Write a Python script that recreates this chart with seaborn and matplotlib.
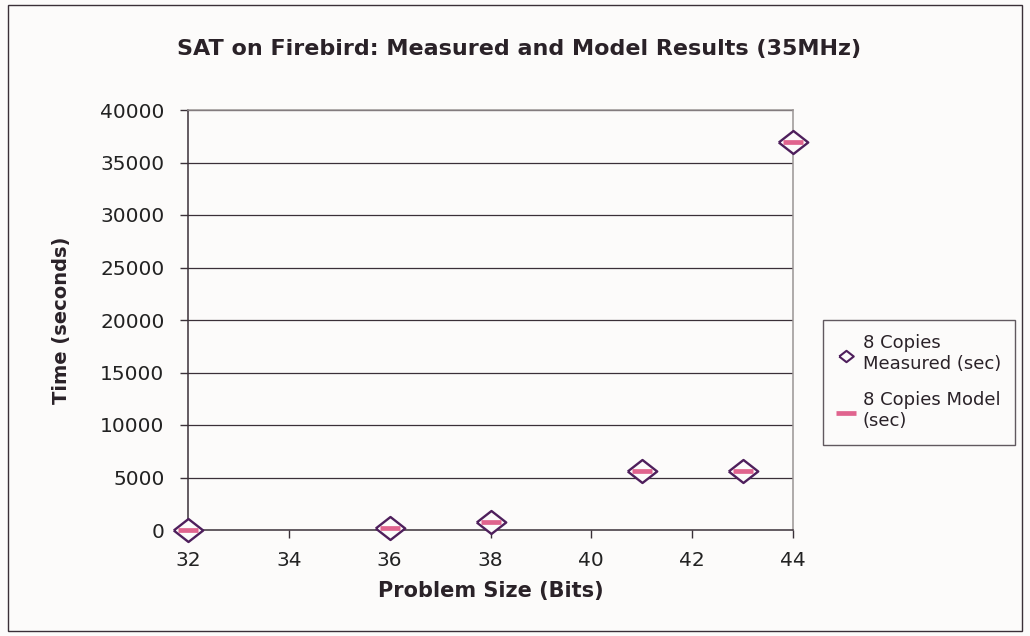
import matplotlib
matplotlib.use("Agg")
import matplotlib.pyplot as plt
from matplotlib.patches import Rectangle
import seaborn as sns
import pandas as pd

# Problem sizes (bits) and run times (seconds)
problem_bits = [32, 36, 38, 41, 43, 44]
measured_sec = [10, 230, 800, 5600, 5600, 37000]
model_sec = [10, 230, 800, 5600, 5600, 37000]

x_ticks = [32, 34, 36, 38, 40, 42, 44]
y_ticks = [0, 5000, 10000, 15000, 20000, 25000, 30000, 35000, 40000]

df = pd.DataFrame({"bits": problem_bits, "measured": measured_sec, "model": model_sec})

sns.set_theme(style="white")
plt.rcParams["font.family"] = ["DejaVu Sans"]

bg = "#fcfbfa"
purple = "#4e1f5c"
pink = "#e0648e"
dark = "#3a3038"

fig = plt.figure(figsize=(10.30, 6.36), dpi=100, facecolor=bg)
ax = fig.add_axes([188 / 1030, 1 - 530 / 636, (793 - 188) / 1030, (530 - 110) / 636])
ax.set_facecolor(bg)

# wide, flat diamond outline for the measured values
diamond = [(-1.0, 0.0), (0.0, 0.78), (1.0, 0.0), (0.0, -0.78), (-1.0, 0.0)]

sns.scatterplot(data=df, x="bits", y="measured", ax=ax, marker=diamond, s=450,
                facecolor=bg, edgecolor=purple, linewidth=1.7,
                label="8 Copies\nMeasured (sec)", zorder=4, clip_on=False)
sns.scatterplot(data=df, x="bits", y="model", ax=ax, marker="_", s=210,
                color=pink, linewidth=3.4,
                label="8 Copies Model\n(sec)", zorder=5, clip_on=False)

ax.set_xlim(32, 44)
ax.set_ylim(0, 40000)
ax.set_xticks(x_ticks)
ax.set_yticks(y_ticks)
ax.set_xticklabels([str(v) for v in x_ticks])
ax.set_yticklabels([str(v) for v in y_ticks])

for y in y_ticks[1:]:
    ax.axhline(y, color=dark, lw=0.9, zorder=1)

ax.tick_params(axis="both", which="major", direction="out", length=6, width=1,
               color=dark, labelsize=14.5, labelcolor="#222222", pad=11,
               bottom=True, left=True)
ax.tick_params(axis="x", pad=9)

for side in ["left", "bottom"]:
    ax.spines[side].set_color(dark)
    ax.spines[side].set_linewidth(1.1)
for side in ["top", "right"]:
    ax.spines[side].set_color("#9a9494")
    ax.spines[side].set_linewidth(1.1)

ax.set_xlabel("Problem Size (Bits)", fontsize=15, fontweight="bold", color="#2a2228", labelpad=8)
ax.set_ylabel("Time (seconds)", fontsize=14, fontweight="bold", color="#2a2228", labelpad=21)

fig.text(519 / 1030, 1 - 49 / 636, "SAT on Firebird: Measured and Model Results (35MHz)",
         ha="center", va="center", fontsize=16, fontweight="bold", color="#2a2228")

leg = ax.legend(loc="upper left", bbox_to_anchor=(823 / 1030, 1 - 320 / 636),
                bbox_transform=fig.transFigure, frameon=True, fancybox=False,
                fontsize=13, labelspacing=1.0, handlelength=1.0, handletextpad=0.4,
                borderpad=0.8, borderaxespad=0)
# legend keys: small diamond, full-length dash
leg.legend_handles[0].set_sizes([110])
leg.legend_handles[0].set_linewidth(1.5)
leg.legend_handles[1].set_sizes([190])
leg.legend_handles[1].set_linewidth(3.4)
leg.get_frame().set_edgecolor(dark)
leg.get_frame().set_linewidth(1.0)
leg.get_frame().set_facecolor(bg)
for t in leg.get_texts():
    t.set_color("#2a2228")

# outer frame of the figure
fig.patches.append(Rectangle((8 / 1030, 5 / 636), 1014 / 1030, 626 / 636,
                             transform=fig.transFigure, fill=False,
                             edgecolor=dark, linewidth=1.0))

fig.savefig("out.png", dpi=100, facecolor=bg)
